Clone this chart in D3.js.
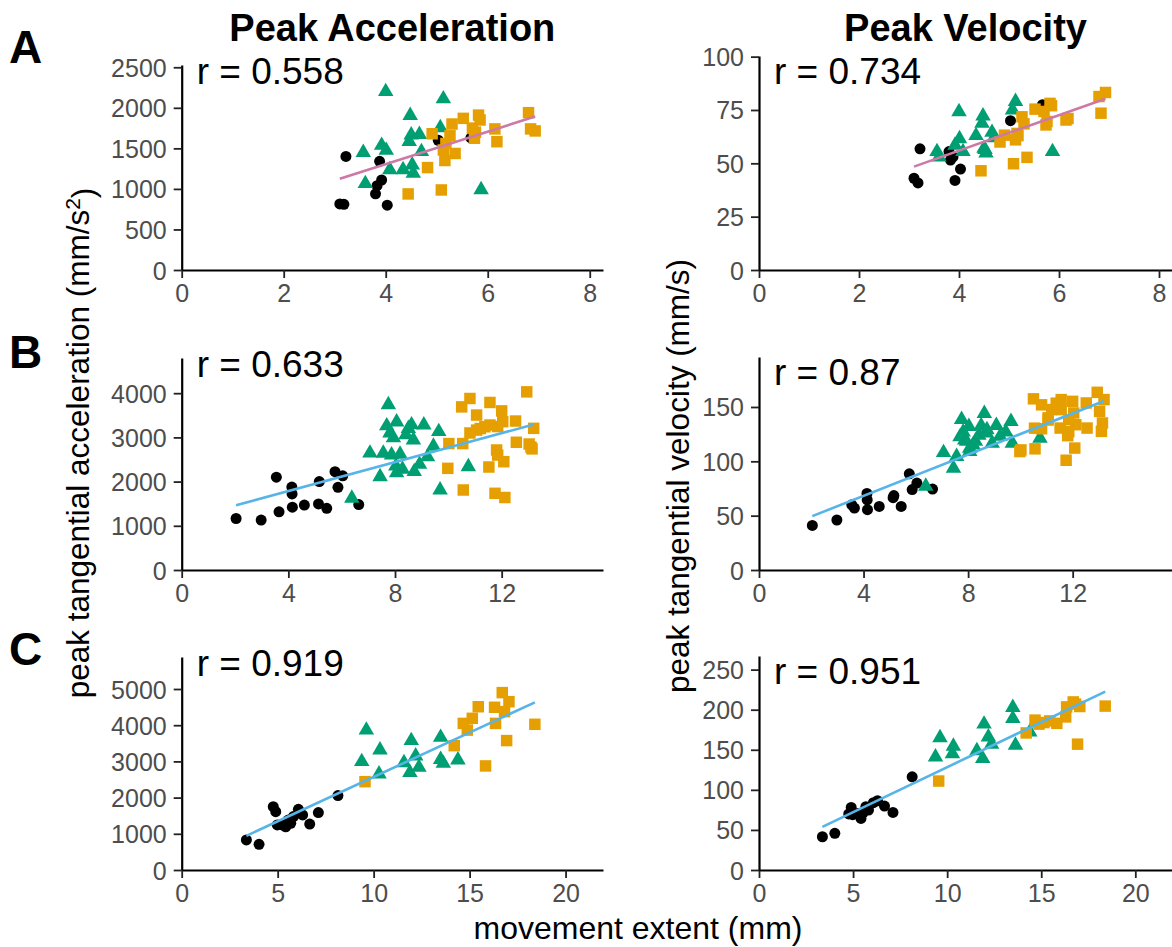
<!DOCTYPE html>
<html>
<head>
<meta charset="utf-8">
<script src="https://cdn.jsdelivr.net/npm/d3@7/dist/d3.min.js"></script>
<style>
  body { margin: 0; background: #fff; }
  svg { display: block; }
  text { font-family: "Liberation Sans", Arial, Helvetica, sans-serif; }
</style>
</head>
<body>
<svg id="chart" width="1172" height="947"></svg>
<script>
// ---------- labels ----------
const columnTitles = ["Peak Acceleration", "Peak Velocity"];
const rowLetters = ["A", "B", "C"];
const rLabels = [["0.558", "0.734"], ["0.633", "0.87"], ["0.919", "0.951"]];
const xTickValues = [[0, 2, 4, 6, 8], [0, 4, 8, 12], [0, 5, 10, 15, 20]];
const accTickValues = [[0, 500, 1000, 1500, 2000, 2500], [0, 1000, 2000, 3000, 4000], [0, 1000, 2000, 3000, 4000, 5000]];
const velTickValues = [[0, 25, 50, 75, 100], [0, 50, 100, 150], [0, 50, 100, 150, 200, 250]];
const xAxisTitle = "movement extent (mm)";

// ---------- row A ----------
const aCircleX   = [3.10, 3.18, 3.22, 3.80, 3.83, 3.88, 3.92, 4.03, 5.03, 5.67];
const aCircleAcc = [815, 810, 1400, 940, 1040, 1340, 1110, 800, 1600, 1630];
const aCircleVel = [43.0, 40.8, 56.8, 55.5, 51.5, 53.0, 42.0, 47.3, 70.0, 77.5];

const aTriX   = [3.56, 3.60, 3.92, 4.00, 4.01, 4.08, 4.34, 4.46, 4.48, 4.50, 4.52, 4.54, 4.66, 4.70, 5.07, 5.13, 5.87];
const aTriAcc = [1450, 1065, 1537, 2200, 1475, 1237, 1237, 1585, 1905, 1665, 1295, 1192, 1672, 1460, 1755, 2110, 990];
const aTriVel = [55.5, 53.0, 58.5, 74.2, 61.5, 55.5, 63.0, 68.8, 72.2, 57.0, 56.5, 54.8, 64.5, 62.0, 75.0, 79.0, 55.5];

const aSqX   = [4.44, 4.82, 4.91, 5.09, 5.13, 5.16, 5.18, 5.26, 5.30, 5.36, 5.52, 5.70, 5.74, 5.76, 5.82, 5.85, 6.14, 6.18, 6.80, 6.84, 6.93];
const aSqAcc = [938, 1263, 1680, 987, 1480, 1350, 1560, 1655, 1800, 1437, 1870, 1750, 1625, 1700, 1910, 1850, 1740, 1582, 1940, 1740, 1715];
const aSqVel = [46.5, 60.0, 63.2, 49.8, 61.0, 64.0, 63.0, 71.8, 68.5, 52.8, 75.4, 74.3, 68.0, 69.6, 78.1, 77.0, 70.3, 71.0, 81.3, 73.5, 83.2];

// ---------- row B ----------
const bCircleX   = [2.04, 2.98, 3.55, 3.65, 4.13, 4.14, 4.15, 4.60, 5.13, 5.16, 5.44, 5.75, 5.86, 6.04, 6.64];
const bCircleAcc = [1165, 1130, 2100, 1315, 1875, 1720, 1420, 1470, 1495, 2000, 1395, 2225, 1870, 2130, 1480];
const bCircleVel = [41, 46, 60, 57, 70.5, 64.5, 55.5, 58.5, 66.5, 68.5, 58.5, 88.5, 74, 80, 74.5];

const bTriX   = [6.38, 7.06, 7.44, 7.56, 7.69, 7.75, 7.81, 7.87, 7.94, 8.03, 8.06, 8.06, 8.19, 8.28, 8.41, 8.50, 8.62, 8.69, 8.72, 8.92, 9.08, 9.22, 9.44, 9.64, 9.69, 10.75];
const bTriAcc = [1623, 2645, 2110, 2640, 3260, 3740, 3100, 2600, 2990, 2350, 3350, 2200, 2620, 2280, 3057, 3200, 3283, 2940, 2225, 2390, 3280, 2560, 2800, 3130, 1810, 2338];
const bTriVel = [77, 108, 93.7, 104.4, 122.5, 138.5, 127, 119.5, 118.4, 132, 109, 112, 115, 118.4, 124, 132.8, 144, 126, 129, 116.7, 133, 123, 127, 136.7, 116.7, 121.3];

const bSqX   = [9.98, 10.02, 10.50, 10.54, 10.56, 10.81, 10.81, 11.06, 11.06, 11.20, 11.37, 11.52, 11.56, 11.56, 11.75, 11.81, 11.85, 11.85, 12.00, 12.04, 12.08, 12.12, 12.52, 12.55, 12.94, 13.03, 13.10, 13.14, 13.20];
const bSqAcc = [2300, 2860, 3690, 2860, 1810, 3880, 3100, 3505, 3165, 3200, 3240, 2330, 3790, 3280, 1735, 2715, 2600, 3245, 3600, 3355, 2450, 1640, 3370, 2890, 4030, 2850, 2780, 2740, 3205];
const bSqVel = [109, 110.5, 157.5, 130.5, 111.5, 152, 130, 140, 138, 147.6, 153.5, 130.6, 156.8, 147.6, 101, 123.6, 127.3, 138.3, 155.2, 144.5, 112.2, 133.7, 153.7, 130.6, 163.5, 146, 127.6, 135.3, 156.8];

// ---------- row C ----------
const cCircleX   = [3.37, 4.03, 4.77, 4.90, 4.98, 5.24, 5.42, 5.55, 5.68, 5.82, 6.08, 6.30, 6.67, 7.12, 8.14];
const cCircleAcc = [830, 710, 1750, 1610, 1245, 1245, 1195, 1380, 1290, 1475, 1675, 1520, 1270, 1585, 2055];
const cCircleVel = [41.5, 45.7, 70, 78, 69, 70.6, 64.4, 72, 78.9, 74.8, 84, 86.4, 79.7, 71.8, 116.3];

const cTriX   = [9.38, 9.62, 10.28, 10.33, 11.58, 11.89, 11.96, 12.19, 12.36, 13.49, 13.49, 13.63, 14.39];
const cTriAcc = [2995, 3865, 2650, 3315, 2965, 2690, 3575, 3150, 2835, 3665, 3055, 2945, 3040];
const cTriVel = [141, 165, 145, 154.5, 148.7, 139, 182, 166, 157, 202.7, 189, 155.7, 172.3];

const cSqX   = [9.55, 14.20, 14.67, 14.88, 15.14, 15.45, 15.83, 16.30, 16.35, 16.70, 16.82, 16.93, 17.05, 18.40];
const cSqAcc = [2440, 3435, 4050, 3865, 4190, 4510, 2875, 4495, 4050, 4900, 4375, 3575, 4650, 4025];
const cSqVel = [111, 171, 187, 182, 184, 186, 183, 191, 203.5, 209.7, 207, 157, 204, 204.5];

// ---------- layout ----------
const svg = d3.select("#chart");
const colX = [[181.7, 603], [759, 1172]];
const groupStyles = [
  { type: d3.symbolCircle,   size: 95,  fill: "#000000" },
  { type: d3.symbolTriangle, size: 104, fill: "#009E73" },
  { type: d3.symbolSquare,   size: 132, fill: "#E69F00" }
];

const rows = [
  { xs: [aCircleX, aTriX, aSqX], ys: [[aCircleAcc, aTriAcc, aSqAcc], [aCircleVel, aTriVel, aSqVel]],
    xMax: 8.26, yMax: [2528, 100.3], bottom: 270, top: [65, 56], fitColor: "#CC79A7", letterY: 63 },
  { xs: [bCircleX, bTriX, bSqX], ys: [[bCircleAcc, bTriAcc, bSqAcc], [bCircleVel, bTriVel, bSqVel]],
    xMax: 15.8, yMax: [4796, 196], bottom: 570, top: [358, 357], fitColor: "#56B4E9", letterY: 368 },
  { xs: [cCircleX, cTriX, cSqX], ys: [[cCircleAcc, cTriAcc, cSqAcc], [cCircleVel, cTriVel, cSqVel]],
    xMax: 21.95, yMax: [5884, 267], bottom: 870, top: [657, 656], fitColor: "#56B4E9", letterY: 665 }
];
const yTickSets = [accTickValues, velTickValues];
const plainNumber = d3.format("d");

// least-squares line through all points of a panel
function linearFit(xs, ys) {
  const n = xs.length;
  const mx = d3.mean(xs), my = d3.mean(ys);
  let sxy = 0, sxx = 0;
  for (let i = 0; i < n; i++) { sxy += (xs[i] - mx) * (ys[i] - my); sxx += (xs[i] - mx) ** 2; }
  const slope = sxy / sxx;
  return { slope, intercept: my - slope * mx, x0: d3.min(xs), x1: d3.max(xs) };
}

rows.forEach((row, ri) => {
  [0, 1].forEach(ci => {
    const x = d3.scaleLinear().domain([0, row.xMax]).range(colX[ci]);
    const y = d3.scaleLinear().domain([0, row.yMax[ci]]).range([row.bottom, row.top[ci]]);
    const g = svg.append("g");

    // axes
    const xAxis = g.append("g").attr("transform", `translate(0,${row.bottom})`)
      .call(d3.axisBottom(x).tickValues(xTickValues[ri]).tickFormat(plainNumber)
        .tickSize(8).tickPadding(6).tickSizeOuter(0));
    const yAxis = g.append("g").attr("transform", `translate(${colX[ci][0]},0)`)
      .call(d3.axisLeft(y).tickValues(yTickSets[ci][ri]).tickFormat(plainNumber)
        .tickSize(8).tickPadding(7).tickSizeOuter(0));
    [xAxis, yAxis].forEach(ax => {
      ax.select(".domain").attr("stroke", "#000").attr("stroke-width", 2.2);
      ax.selectAll(".tick line").attr("stroke", "#222").attr("stroke-width", 1.8);
      ax.selectAll(".tick text").attr("fill", "#4D4D4D").style("font-size", "25px");
    });
    xAxis.selectAll(".tick text").attr("dy", "0.72em");
    yAxis.selectAll(".tick text").attr("dy", "0.36em");

    // points
    const pts = [];
    row.xs.forEach((gx, gi) => gx.forEach((v, i) => pts.push({ x: v, y: row.ys[ci][gi][i], gi })));
    g.append("g").selectAll("path").data(pts).join("path")
      .attr("transform", d => `translate(${x(d.x)},${y(d.y)})`)
      .attr("d", d => d3.symbol().type(groupStyles[d.gi].type).size(groupStyles[d.gi].size)())
      .attr("fill", d => groupStyles[d.gi].fill);

    // regression line
    const f = linearFit(pts.map(p => p.x), pts.map(p => p.y));
    g.append("line")
      .attr("x1", x(f.x0)).attr("y1", y(f.intercept + f.slope * f.x0))
      .attr("x2", x(f.x1)).attr("y2", y(f.intercept + f.slope * f.x1))
      .attr("stroke", row.fitColor).attr("stroke-width", 2.6);

    // correlation label
    g.append("text")
      .attr("x", colX[ci][0] + 15)
      .attr("y", row.top[ci] + 19 + (ci === 1 ? 9 : 0))
      .style("font-size", "37px").attr("fill", "#000")
      .text(`r = ${rLabels[ri][ci]}`);
  });

  svg.append("text").attr("x", 9).attr("y", row.letterY)
    .style("font-size", "46px").style("font-weight", "bold").text(rowLetters[ri]);
});

// column titles
columnTitles.forEach((t, ci) => {
  svg.append("text").attr("x", (colX[ci][0] + colX[ci][1]) / 2).attr("y", 41)
    .attr("text-anchor", "middle").style("font-size", "38px").style("font-weight", "bold").text(t);
});

// axis titles
svg.append("text").attr("x", 638).attr("y", 939).attr("text-anchor", "middle")
  .style("font-size", "32px").text(xAxisTitle);

const accTitle = svg.append("text").attr("transform", "translate(89,443) rotate(-90)")
  .attr("text-anchor", "middle").style("font-size", "31.5px");
accTitle.append("tspan").text("peak tangential acceleration (mm/s");
accTitle.append("tspan").attr("dy", "-0.45em").style("font-size", "21px").text("2");
accTitle.append("tspan").attr("dy", "0.45em").text(")");

svg.append("text").attr("transform", "translate(689,476) rotate(-90)")
  .attr("text-anchor", "middle").style("font-size", "31.5px").text("peak tangential velocity (mm/s)");
</script>
</body>
</html>
